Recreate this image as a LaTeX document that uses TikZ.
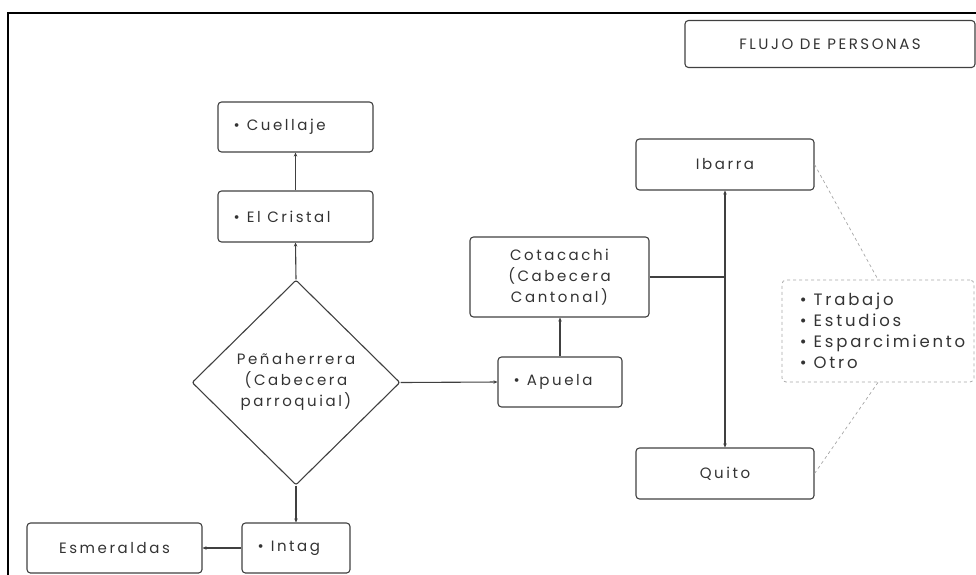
\documentclass[tikz,border=0pt]{standalone}
\usepackage{fontspec}
\setmainfont{Poppins}[LetterSpace=17]
\usetikzlibrary{shapes.geometric,arrows.meta}
\definecolor{ink}{HTML}{333333}
\definecolor{edge}{HTML}{404040}
\newcommand\mybul{\textbullet\hspace{7pt}}
\tikzset{
  x=1pt,y=-1pt,
  every node/.style={font=\fontsize{15}{21}\selectfont, text=ink},
  box/.style={draw=edge, line width=1.1pt, rounded corners=3.5pt, inner sep=0pt},
  dia/.style={draw=edge, line width=1.1pt, diamond, inner sep=0pt, rounded corners=2pt},
  dbox/.style={draw=gray!70, dashed, line width=0.8pt, rounded corners=4pt, inner sep=0pt},
  conn/.style={draw=edge, line width=1.1pt},
  arr/.style={conn, -{Stealth[length=4pt,width=3.5pt]}},
  dline/.style={draw=gray!70, dashed, line width=0.7pt},
  lbl/.style={anchor=west, inner sep=0pt},
}
\begin{document}
\begin{tikzpicture}
\useasboundingbox (0,0) rectangle (976,574);
% outer frame
\draw[line width=1.6pt, black] (8,576) -- (8,13) -- (978,13);

% nodes
\node[box, minimum width=290, minimum height=47] (title) at (830,44) {};
\node[inner sep=0pt] (titlet) at (title.center) {FLUJO DE PERSONAS};

\node[box, minimum width=155, minimum height=50] (cuellaje) at (295.5,127) {};
\node[lbl] (cuellajet) at ([xshift=16]cuellaje.west) {\mybul Cuellaje};

\node[box, minimum width=155, minimum height=51] (cristal) at (295.5,216.5) {};
\node[lbl] (cristalt) at ([xshift=16]cristal.west) {\mybul El Cristal};

\node[dia, minimum width=208, minimum height=205] (pena) at (296,382.5) {};
\node[align=center, inner sep=0pt] (penat) at (296,382) {Peñaherrera\\(Cabecera\\parroquial)};

\node[box, minimum width=108, minimum height=50] (intag) at (296,548) {};
\node[lbl] (intagt) at ([xshift=16]intag.west) {\mybul Intag};

\node[box, minimum width=175, minimum height=50] (esme) at (114.5,548) {Esmeraldas};

\node[box, minimum width=124, minimum height=50] (apuela) at (560,382) {};
\node[lbl] (apuelat) at ([xshift=16]apuela.west) {\mybul Apuela};

\node[box, minimum width=179, minimum height=80, align=center] (cota) at (559.5,277) {Cotacachi\\(Cabecera\\Cantonal)};

\node[box, minimum width=178, minimum height=51] (ibarra) at (725,164.5) {Ibarra};
\node[box, minimum width=178, minimum height=51] (quito) at (725,473.5) {Quito};

\node[dbox, minimum width=192, minimum height=102] (razones) at (878,331) {};
\node[lbl, align=left, font=\fontsize{16.5}{21}\selectfont] (razonest) at ([xshift=18]razones.west) {\mybul Trabajo\\\mybul Estudios\\\mybul Esparcimiento\\\mybul Otro};

% connectors
\coordinate (junc) at (ibarra.south |- cota.east);
\draw[arr] (cristal.north) -- (cuellaje.south);
\draw[arr] (pena.north) -- (cristal.south);
\draw[arr] (pena.south) -- (intag.north);
\draw[arr] (intag.west) -- (esme.east);
\draw[arr] (pena.east) -- (apuela.west);
\draw[arr] (apuela.north) -- (apuela.north |- cota.south);
\draw[conn] (cota.east) -- (junc);
\draw[arr] (junc) -- (ibarra.south);
\draw[arr] (junc) -- (quito.north);
\draw[dline] (ibarra.east) -- (razones.north);
\draw[dline] (razones.south) -- (quito.east);
\end{tikzpicture}
\end{document}
